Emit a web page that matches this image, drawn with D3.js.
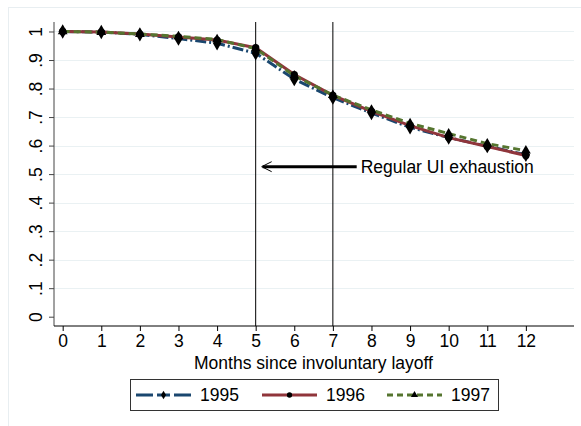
<!DOCTYPE html>
<html>
<head>
<meta charset="utf-8">
<script src="https://cdn.jsdelivr.net/npm/d3@7"></script>
<style>
  body { margin: 0; background: #fff; }
  text { font-family: "Liberation Sans", Arial, Helvetica, sans-serif; fill: #000; }
</style>
</head>
<body>
<div id="chart-area"></div>
<script>
// survival share by months since layoff
const months = [0, 1, 2, 3, 4, 5, 6, 7, 8, 9, 10, 11, 12]
const y1995 = [1.0, 0.998, 0.990, 0.975, 0.959, 0.924, 0.833, 0.768, 0.714, 0.664, 0.628, 0.598, 0.568]
const y1996 = [1.0, 0.998, 0.991, 0.981, 0.970, 0.943, 0.849, 0.776, 0.720, 0.670, 0.628, 0.597, 0.565]
const y1997 = [1.0, 0.998, 0.991, 0.983, 0.972, 0.940, 0.845, 0.777, 0.725, 0.678, 0.642, 0.607, 0.582]
const yTicks = [0, 0.1, 0.2, 0.3, 0.4, 0.5, 0.6, 0.7, 0.8, 0.9, 1]
const refLines = [5, 7]
const seriesNames = ['1995', '1996', '1997']

const series = [
    { name: seriesNames[0], values: y1995, color: '#1a476f', dash: '11,3,2,3', marker: d3.symbolDiamond },
    { name: seriesNames[1], values: y1996, color: '#90353b', dash: null, marker: d3.symbolCircle },
    { name: seriesNames[2], values: y1997, color: '#55752f', dash: '7,4', marker: d3.symbolTriangle }
]

const W = 581, H = 426
const plot = { left: 54, right: 574, top: 22, bottom: 326 }
const fs = '17.5px'

const svg = d3.select('#chart-area').append('svg')
    .attr('width', W)
    .attr('height', H)

// faint outer frame
svg.append('rect')
    .attr('x', 8.5).attr('y', 7.5)
    .attr('width', 700).attr('height', 600)
    .attr('fill', 'none')
    .attr('stroke', '#e8eef1')

const x = d3.scaleLinear()
    .domain([-0.225, 13.247])
    .range([plot.left, plot.right])

const y = d3.scaleLinear()
    .domain([-0.0326, 1.0333])
    .range([plot.bottom, plot.top])

// grid
svg.append('g')
    .selectAll('line').data(yTicks.filter(d => d > 0))
    .enter().append('line')
    .attr('x1', plot.left).attr('x2', plot.right)
    .attr('y1', d => Math.round(y(d)) + 0.5)
    .attr('y2', d => Math.round(y(d)) + 0.5)
    .attr('stroke', '#eaf1f3')
    .attr('stroke-width', 1)

// y axis
const yAxis = svg.append('g')
    .attr('transform', `translate(${plot.left}, 0)`)
    .call(d3.axisLeft(y).tickValues(yTicks).tickSize(5).tickSizeOuter(0)
        .tickFormat(d => d === 0 ? '0' : d === 1 ? '1' : d3.format('.1f')(d).replace('0.', '.')))
yAxis.select('.domain').attr('stroke', '#444').attr('d', `M0,${plot.top}V${plot.bottom}`)
yAxis.selectAll('.tick line').attr('stroke', '#444')
yAxis.selectAll('.tick text')
    .attr('font-size', fs)
    .attr('x', null).attr('dy', null)
    .attr('text-anchor', 'middle')
    .attr('transform', 'translate(-12, 0) rotate(-90)')
    .attr('dy', '0em')

// x axis
const xAxis = svg.append('g')
    .attr('transform', `translate(0, ${plot.bottom})`)
    .call(d3.axisBottom(x).tickValues(months).tickSize(5).tickSizeOuter(0).tickFormat(d3.format('d')))
xAxis.select('.domain').attr('stroke', '#000').attr('d', `M${plot.left},0H${plot.right}`)
xAxis.selectAll('.tick line').attr('stroke', '#000')
xAxis.selectAll('.tick text').attr('font-size', fs).attr('y', 9)

svg.append('text')
    .attr('x', 313.5)
    .attr('y', 369)
    .attr('text-anchor', 'middle')
    .attr('font-size', fs)
    .text('Months since involuntary layoff')

// reference lines
svg.append('g')
    .selectAll('line').data(refLines)
    .enter().append('line')
    .attr('x1', d => x(d)).attr('x2', d => x(d))
    .attr('y1', plot.top).attr('y2', plot.bottom)
    .attr('stroke', '#000')
    .attr('stroke-width', 1)

// series lines
const line = d3.line()
    .x((d, i) => x(months[i]))
    .y(d => y(d))

series.forEach(s => {
    svg.append('path')
        .datum(s.values)
        .attr('d', line)
        .attr('fill', 'none')
        .attr('stroke', s.color)
        .attr('stroke-width', 3)
        .attr('stroke-dasharray', s.dash)
})

// markers
series.forEach(s => {
    svg.append('g')
        .selectAll('path').data(s.values)
        .enter().append('path')
        .attr('d', d3.symbol().type(s.marker).size(s.marker === d3.symbolDiamond ? 60 : 42))
        .attr('transform', (d, i) => `translate(${x(months[i])}, ${y(d)})`)
        .attr('fill', '#000')
})

// annotation arrow
const arrowY = y(0.526)
const tipX = x(5.155), tailX = x(7.617)
svg.append('line')
    .attr('x1', tipX + 1).attr('x2', tailX)
    .attr('y1', arrowY).attr('y2', arrowY)
    .attr('stroke', '#000').attr('stroke-width', 3)
svg.append('path')
    .attr('d', `M${tipX + 10},${arrowY - 5}L${tipX},${arrowY}L${tipX + 10},${arrowY + 5}`)
    .attr('fill', 'none').attr('stroke', '#000').attr('stroke-width', 1)
svg.append('text')
    .attr('x', x(7.72))
    .attr('y', arrowY)
    .attr('dy', '0.35em')
    .attr('font-size', fs)
    .text('Regular UI exhaustion')

// legend
const legend = svg.append('g')
svg.append('rect')
    .attr('x', 130.5).attr('y', 379.5)
    .attr('width', 368).attr('height', 31)
    .attr('fill', 'none').attr('stroke', '#333')
const legX = [136, 262, 387]
series.forEach((s, i) => {
    const g = legend.append('g').attr('transform', `translate(${legX[i]}, 395)`)
    g.append('line')
        .attr('x1', 0).attr('x2', 55)
        .attr('stroke', s.color).attr('stroke-width', 3)
        .attr('stroke-dasharray', i === 0 ? '17,4,13,4,17' : s.dash ? '6,4' : null)
    g.append('path')
        .attr('d', d3.symbol().type(s.marker).size(22))
        .attr('transform', 'translate(27.5, 0)')
        .attr('fill', '#000')
    g.append('text')
        .attr('x', 64).attr('dy', '0.36em')
        .attr('font-size', fs)
        .text(s.name)
})
</script>
</body>
</html>
